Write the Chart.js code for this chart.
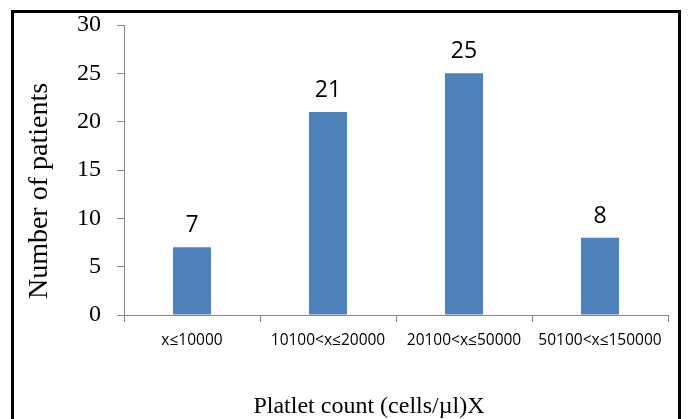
<!DOCTYPE html>
<html>
<head>
<meta charset="utf-8">
<script src="https://cdn.jsdelivr.net/npm/chart.js@4"></script>
<style>
  html, body { margin: 0; padding: 0; background: #fff; }
  canvas { display: block; }
</style>
</head>
<body>
<canvas id="chart" width="689" height="419"></canvas>
<script>
const categories = ['x≤10000', '10100<x≤20000', '20100<x≤50000', '50100<x≤150000'];
const patients = [7, 21, 25, 8];
const yTicks = [0, 5, 10, 15, 20, 25, 30];
const xTitle = 'Platlet count (cells/µl)X';
const yTitle = 'Number of patients';

const serif = '"Liberation Serif", "Times New Roman", serif';
const sans = '"Open Sans", "Liberation Sans", sans-serif';

// outer black frame
const framePlugin = {
    id: 'frame',
    beforeDraw(chart) {
        const ctx = chart.ctx;
        ctx.save();
        ctx.fillStyle = '#fff';
        ctx.fillRect(0, 0, chart.width, chart.height);
        ctx.strokeStyle = '#000';
        ctx.lineWidth = 3;
        ctx.strokeRect(12.5, 11.5, 667, 430);
        ctx.restore();
    }
};

// value labels above bars + axis titles (they sit off-centre in the original)
const valueLabels = {
    id: 'valueLabels',
    afterDatasetsDraw(chart) {
        const ctx = chart.ctx;
        const meta = chart.getDatasetMeta(0);
        ctx.save();
        ctx.font = '23px ' + sans;
        ctx.fillStyle = '#000';
        ctx.textAlign = 'center';
        ctx.textBaseline = 'alphabetic';
        meta.data.forEach((bar, i) => {
            ctx.fillText(String(patients[i]), bar.x, bar.y - 15);
        });

        ctx.font = '24px ' + serif;
        ctx.textBaseline = 'middle';
        ctx.fillText(xTitle, 369, 407);

        ctx.translate(40, 191);
        ctx.rotate(-Math.PI / 2);
        ctx.font = '28px ' + serif;
        ctx.fillText(yTitle, 0, 0);
        ctx.restore();
    }
};

new Chart(document.getElementById('chart'), {
    type: 'bar',
    data: {
        labels: categories,
        datasets: [{
            data: patients,
            backgroundColor: '#4F81BD',
            borderWidth: 0,
            categoryPercentage: 1,
            barPercentage: 0.28
        }]
    },
    options: {
        responsive: false,
        animation: false,
        devicePixelRatio: 1,
        layout: { padding: { left: 14, top: 25, right: 21, bottom: 0 } },
        plugins: {
            legend: { display: false },
            tooltip: { enabled: false }
        },
        scales: {
            x: {
                afterFit: s => { s.height = 104; s.paddingLeft = 0; s.paddingRight = 0; },
                grid: {
                    drawOnChartArea: false,
                    drawTicks: true,
                    tickLength: 7,
                    color: '#868686'
                },
                border: { color: '#868686', width: 1 },
                ticks: {
                    color: '#000',
                    padding: 9,
                    maxRotation: 0,
                    autoSkip: false,
                    font: { family: sans, size: 15.5 }
                }
            },
            y: {
                min: 0,
                max: 30,
                afterFit: s => { s.width = 110; s.paddingTop = 0; s.paddingBottom = 0; },
                afterBuildTicks: s => { s.ticks = yTicks.map(v => ({ value: v })); },
                grid: {
                    drawOnChartArea: false,
                    drawTicks: true,
                    tickLength: 7,
                    color: '#868686'
                },
                border: { color: '#868686', width: 1 },
                ticks: {
                    color: '#000',
                    padding: 16,
                    font: { family: serif, size: 24 }
                }
            }
        }
    },
    plugins: [framePlugin, valueLabels]
});
</script>
</body>
</html>
